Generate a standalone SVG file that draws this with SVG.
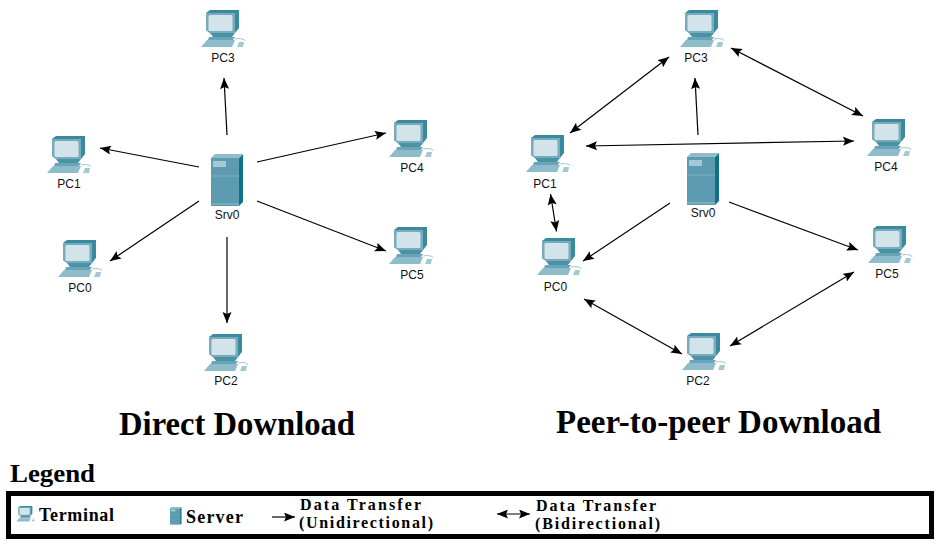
<svg xmlns="http://www.w3.org/2000/svg" xmlns:xlink="http://www.w3.org/1999/xlink" width="943" height="548" viewBox="0 0 943 548">
<style>
.lbl{font:12px "Liberation Sans",Arial,sans-serif;fill:#111;text-anchor:middle}
.t{font-family:"Liberation Serif","Times New Roman",serif;font-weight:bold;fill:#000}
.c{stroke:#000;stroke-width:1.2;fill:none;marker-end:url(#a)}
.b{marker-start:url(#s)}
</style>
<defs>
<marker id="a" markerUnits="userSpaceOnUse" markerWidth="12" markerHeight="10" refX="11" refY="4.5" orient="auto"><path d="M0 0L11 4.5L0 9L2 4.5Z" fill="#000"/></marker>
<marker id="s" markerUnits="userSpaceOnUse" markerWidth="12" markerHeight="10" refX="0" refY="4.5" orient="auto"><path d="M11 0L0 4.5L11 9L9 4.5Z" fill="#000"/></marker>
<symbol id="pc" overflow="visible">
<path d="M6 3L10 0H39V18L35 23H10L6 20Z" fill="#3a8a9f"/>
<path d="M6 3H35V23H10L6 20Z" fill="#78acbc"/>
<rect x="8.500" y="5" width="24" height="16" rx="1.500" fill="#d3e3ea"/>
<path d="M10 23H35L32 27H13Z" fill="#4a92a6"/>
<path d="M9 27H35L33 30H8Z" fill="#6aa4b6"/>
<path d="M1 37L7 30H35L32 37Z" fill="#8fbccb"/>
<path d="M35 29C40 28 45 29 45 31" stroke="#9cc3d0" stroke-width="1" fill="none"/>
<path d="M37 37L39 32H44L43 37Z" fill="#a5c8d4"/>
</symbol>
<symbol id="srv" overflow="visible">
<path d="M28 4L32 0V48L28 52Z" fill="#0e7288"/>
<path d="M0 4L4 0H32L28 4Z" fill="#8fbdca"/>
<rect x="0" y="4" width="28" height="48" fill="#5d9cb0"/>
<rect x="2" y="7" width="13" height="6" fill="#a4c8d4"/>
<path d="M0 22H28" stroke="#7fb0c1" stroke-width="1"/>
<path d="M0 50H28" stroke="#8fbdca" stroke-width="1"/>
</symbol>
</defs>
<g id="connectors">
<path class="c" d="M227 135L224 78"/>
<path class="c" d="M199 167L100 148"/>
<path class="c" d="M257 162L386 133"/>
<path class="c" d="M199 201L110 261"/>
<path class="c" d="M257 201L386 251"/>
<path class="c" d="M227 237V323"/>
<path class="c" d="M698 135L695 78"/>
<path class="c" d="M670 203L583 261"/>
<path class="c" d="M729 202L858 250"/>
<path class="c b" d="M570 133L669 57"/>
<path class="c b" d="M731 48L863 116"/>
<path class="c b" d="M586 146L854 141"/>
<path class="c b" d="M550.500 194L556.500 231.500"/>
<path class="c b" d="M584 299L682 354"/>
<path class="c b" d="M730 346L854 272"/>
<path class="c" d="M272 517H295"/>
<path class="c b" d="M497 514H530"/>
</g>
<g id="d-PC3"><use href="#pc" x="200" y="10"/><text class="lbl" x="223" y="62">PC3</text></g>
<g id="d-PC1"><use href="#pc" x="46" y="136"/><text class="lbl" x="69" y="188">PC1</text></g>
<g id="d-PC0"><use href="#pc" x="57" y="240"/><text class="lbl" x="80" y="292">PC0</text></g>
<g id="d-PC2"><use href="#pc" x="203" y="334"/><text class="lbl" x="226" y="385">PC2</text></g>
<g id="d-PC4"><use href="#pc" x="388" y="120"/><text class="lbl" x="412" y="172">PC4</text></g>
<g id="d-PC5"><use href="#pc" x="388" y="227"/><text class="lbl" x="412" y="279">PC5</text></g>
<g id="d-Srv0"><use href="#srv" x="211" y="154"/><text class="lbl" x="227" y="219">Srv0</text></g>
<g id="p-PC3"><use href="#pc" x="679" y="10"/><text class="lbl" x="696" y="62">PC3</text></g>
<g id="p-PC1"><use href="#pc" x="525" y="135"/><text class="lbl" x="545" y="188">PC1</text></g>
<g id="p-PC0"><use href="#pc" x="536" y="238"/><text class="lbl" x="555.500" y="291">PC0</text></g>
<g id="p-PC2"><use href="#pc" x="681" y="333"/><text class="lbl" x="698" y="385">PC2</text></g>
<g id="p-PC4"><use href="#pc" x="866" y="119"/><text class="lbl" x="886" y="171">PC4</text></g>
<g id="p-PC5"><use href="#pc" x="867" y="226"/><text class="lbl" x="887" y="278">PC5</text></g>
<g id="p-Srv0"><use href="#srv" x="687" y="153"/><text class="lbl" x="703" y="217">Srv0</text></g>
<text class="t" x="119" y="435" font-size="33" textLength="236" lengthAdjust="spacingAndGlyphs">Direct Download</text>
<text class="t" x="556" y="433" font-size="33" textLength="325" lengthAdjust="spacingAndGlyphs">Peer-to-peer Download</text>
<text class="t" x="10" y="482" font-size="26" textLength="85" lengthAdjust="spacingAndGlyphs">Legend</text>
<g id="legend">
<rect x="8.500" y="493.500" width="923" height="43" fill="none" stroke="#000" stroke-width="5"/>
<use href="#pc" transform="translate(16 506) scale(.42)"/>
<text class="t" x="39" y="521" font-size="18" textLength="75" lengthAdjust="spacing">Terminal</text>
<use href="#srv" transform="translate(170 507) scale(.36 .34)"/>
<text class="t" x="186" y="523" font-size="18" textLength="57" lengthAdjust="spacing">Server</text>
<text class="t" x="300" y="510" font-size="16" textLength="121" lengthAdjust="spacing">Data Transfer</text>
<text class="t" x="299" y="528" font-size="16" textLength="134" lengthAdjust="spacing">(Unidirectional)</text>
<text class="t" x="536" y="511" font-size="16" textLength="120" lengthAdjust="spacing">Data Transfer</text>
<text class="t" x="535" y="529" font-size="16" textLength="125" lengthAdjust="spacing">(Bidirectional)</text>
</g>
</svg>
